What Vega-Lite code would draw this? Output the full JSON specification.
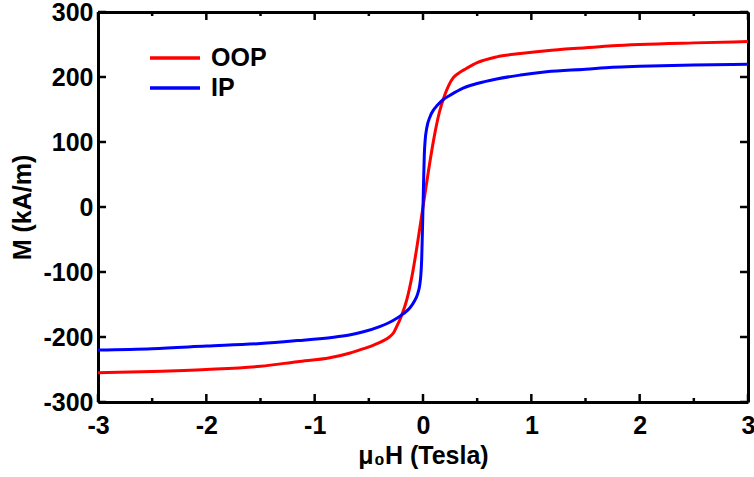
{
  "$schema": "https://vega.github.io/schema/vega-lite/v6.json",
  "width": 650,
  "height": 390,
  "autosize": {"type": "none"},
  "padding": {"left": 98, "top": 12, "right": 6, "bottom": 75},
  "background": "white",
  "config": {
    "view": {"stroke": null},
    "font": "Liberation Sans",
    "axis": {
      "gridOpacity": 0,
      "domainColor": "black",
      "domainWidth": 3,
      "labelFont": "Liberation Sans",
      "labelFontWeight": "bold",
      "labelFontSize": 25,
      "labelColor": "black",
      "titleFont": "Liberation Sans",
      "titleFontWeight": "bold",
      "titleFontSize": 25,
      "titleColor": "black"
    }
  },
  "datasets": {
    "majorX": [{"v": -3}, {"v": -2}, {"v": -1}, {"v": 0}, {"v": 1}, {"v": 2}, {"v": 3}],
    "minorX": [{"v": -2.5}, {"v": -1.5}, {"v": -0.5}, {"v": 0.5}, {"v": 1.5}, {"v": 2.5}],
    "majorY": [{"v": -300}, {"v": -200}, {"v": -100}, {"v": 0}, {"v": 100}, {"v": 200}, {"v": 300}]
  },
  "data": {
    "values": [
      {"series": "OOP", "H": -3, "M": -255},
      {"series": "OOP", "H": -2.5, "M": -253},
      {"series": "OOP", "H": -2, "M": -250},
      {"series": "OOP", "H": -1.5, "M": -245},
      {"series": "OOP", "H": -1.16, "M": -238},
      {"series": "OOP", "H": -0.86, "M": -232},
      {"series": "OOP", "H": -0.68, "M": -225},
      {"series": "OOP", "H": -0.55, "M": -218},
      {"series": "OOP", "H": -0.45, "M": -212},
      {"series": "OOP", "H": -0.37, "M": -206},
      {"series": "OOP", "H": -0.31, "M": -200},
      {"series": "OOP", "H": -0.27, "M": -193},
      {"series": "OOP", "H": -0.24, "M": -183},
      {"series": "OOP", "H": -0.2, "M": -168},
      {"series": "OOP", "H": -0.15, "M": -143},
      {"series": "OOP", "H": -0.1, "M": -105},
      {"series": "OOP", "H": -0.05, "M": -55},
      {"series": "OOP", "H": 0, "M": 0},
      {"series": "OOP", "H": 0.05, "M": 55},
      {"series": "OOP", "H": 0.1, "M": 105},
      {"series": "OOP", "H": 0.15, "M": 145},
      {"series": "OOP", "H": 0.2, "M": 172},
      {"series": "OOP", "H": 0.24, "M": 188},
      {"series": "OOP", "H": 0.28, "M": 199},
      {"series": "OOP", "H": 0.33, "M": 206},
      {"series": "OOP", "H": 0.4, "M": 213},
      {"series": "OOP", "H": 0.5, "M": 222},
      {"series": "OOP", "H": 0.68, "M": 231},
      {"series": "OOP", "H": 0.9, "M": 236},
      {"series": "OOP", "H": 1.14, "M": 240.5},
      {"series": "OOP", "H": 1.5, "M": 245},
      {"series": "OOP", "H": 1.75, "M": 248},
      {"series": "OOP", "H": 2, "M": 250},
      {"series": "OOP", "H": 2.5, "M": 252.5},
      {"series": "OOP", "H": 3, "M": 254.5},
      {"series": "IP", "H": -3, "M": -220},
      {"series": "IP", "H": -2.5, "M": -218},
      {"series": "IP", "H": -2, "M": -214},
      {"series": "IP", "H": -1.5, "M": -210},
      {"series": "IP", "H": -1.16, "M": -205.5},
      {"series": "IP", "H": -0.86, "M": -201},
      {"series": "IP", "H": -0.68, "M": -197},
      {"series": "IP", "H": -0.55, "M": -192},
      {"series": "IP", "H": -0.4, "M": -184},
      {"series": "IP", "H": -0.28, "M": -175},
      {"series": "IP", "H": -0.18, "M": -164},
      {"series": "IP", "H": -0.12, "M": -155},
      {"series": "IP", "H": -0.08, "M": -145},
      {"series": "IP", "H": -0.05, "M": -134},
      {"series": "IP", "H": -0.03, "M": -120},
      {"series": "IP", "H": -0.02, "M": -105},
      {"series": "IP", "H": -0.012, "M": -80},
      {"series": "IP", "H": -0.005, "M": -35},
      {"series": "IP", "H": 0, "M": 0},
      {"series": "IP", "H": 0.005, "M": 35},
      {"series": "IP", "H": 0.012, "M": 80},
      {"series": "IP", "H": 0.02, "M": 103},
      {"series": "IP", "H": 0.034, "M": 121},
      {"series": "IP", "H": 0.065, "M": 139},
      {"series": "IP", "H": 0.1, "M": 150},
      {"series": "IP", "H": 0.13, "M": 156},
      {"series": "IP", "H": 0.185, "M": 165},
      {"series": "IP", "H": 0.25, "M": 172},
      {"series": "IP", "H": 0.37, "M": 183},
      {"series": "IP", "H": 0.5, "M": 190},
      {"series": "IP", "H": 0.68, "M": 197},
      {"series": "IP", "H": 0.9, "M": 203},
      {"series": "IP", "H": 1.14, "M": 208},
      {"series": "IP", "H": 1.5, "M": 212},
      {"series": "IP", "H": 1.75, "M": 215},
      {"series": "IP", "H": 2, "M": 216.5},
      {"series": "IP", "H": 2.5, "M": 218.5},
      {"series": "IP", "H": 3, "M": 219.5}
    ]
  },
  "resolve": {"axis": {"x": "independent", "y": "independent"}},
  "layer": [
    {
      "mark": {"type": "line", "strokeWidth": 3, "interpolate": "monotone"},
      "encoding": {
        "x": {
          "field": "H", "type": "quantitative",
          "scale": {"domain": [-3, 3], "nice": false, "zero": false},
          "axis": {
            "orient": "bottom",
            "values": [-3, -2, -1, 0, 1, 2, 3],
            "labelExpr": "'' + datum.value",
            "labelFlush": false,
            "ticks": false,
            "labelPadding": 11,
            "title": "μ₀H (Tesla)",
            "titlePadding": 5
          }
        },
        "y": {
          "field": "M", "type": "quantitative",
          "scale": {"domain": [-300, 300], "nice": false, "zero": false},
          "axis": {
            "orient": "left",
            "values": [-300, -200, -100, 0, 100, 200, 300],
            "labelExpr": "'' + datum.value",
            "labelFlush": false,
            "ticks": false,
            "labelPadding": 5,
            "title": "M (kA/m)",
            "titlePadding": 7
          }
        },
        "color": {
          "field": "series", "type": "nominal",
          "sort": ["OOP", "IP"],
          "scale": {"domain": ["OOP", "IP"], "range": ["#ff0000", "#0000ff"]},
          "legend": {
            "orient": "none",
            "legendX": 50,
            "legendY": 33,
            "padding": 0,
            "title": null,
            "symbolType": "stroke",
            "symbolSize": 2500,
            "symbolStrokeWidth": 3.5,
            "clipHeight": 26,
            "labelFont": "Liberation Sans",
            "labelFontWeight": "bold",
            "labelFontSize": 25,
            "labelColor": "black",
            "labelOffset": 9,
            "rowPadding": 4
          }
        }
      }
    },
    {
      "mark": {"type": "line", "opacity": 0},
      "encoding": {
        "x": {
          "field": "H", "type": "quantitative",
          "axis": {"orient": "top", "ticks": false, "labels": false, "title": null}
        },
        "y": {
          "field": "M", "type": "quantitative",
          "axis": {"orient": "right", "ticks": false, "labels": false, "title": null}
        }
      }
    },
    {
      "data": {"name": "majorX"},
      "mark": {"type": "tick", "orient": "vertical", "size": 8, "thickness": 2.5, "color": "black", "opacity": 1, "yOffset": -4},
      "encoding": {
        "x": {"field": "v", "type": "quantitative", "axis": null},
        "y": {"datum": -300, "type": "quantitative", "axis": null}
      }
    },
    {
      "data": {"name": "majorX"},
      "mark": {"type": "tick", "orient": "vertical", "size": 8, "thickness": 2.5, "color": "black", "opacity": 1, "yOffset": 4},
      "encoding": {
        "x": {"field": "v", "type": "quantitative", "axis": null},
        "y": {"datum": 300, "type": "quantitative", "axis": null}
      }
    },
    {
      "data": {"name": "minorX"},
      "mark": {"type": "tick", "orient": "vertical", "size": 4, "thickness": 2.5, "color": "black", "opacity": 1, "yOffset": -2},
      "encoding": {
        "x": {"field": "v", "type": "quantitative", "axis": null},
        "y": {"datum": -300, "type": "quantitative", "axis": null}
      }
    },
    {
      "data": {"name": "minorX"},
      "mark": {"type": "tick", "orient": "vertical", "size": 4, "thickness": 2.5, "color": "black", "opacity": 1, "yOffset": 2},
      "encoding": {
        "x": {"field": "v", "type": "quantitative", "axis": null},
        "y": {"datum": 300, "type": "quantitative", "axis": null}
      }
    },
    {
      "data": {"name": "majorY"},
      "mark": {"type": "tick", "orient": "horizontal", "size": 8, "thickness": 2.5, "color": "black", "opacity": 1, "xOffset": 4},
      "encoding": {
        "y": {"field": "v", "type": "quantitative", "axis": null},
        "x": {"datum": -3, "type": "quantitative", "axis": null}
      }
    },
    {
      "data": {"name": "majorY"},
      "mark": {"type": "tick", "orient": "horizontal", "size": 8, "thickness": 2.5, "color": "black", "opacity": 1, "xOffset": -4},
      "encoding": {
        "y": {"field": "v", "type": "quantitative", "axis": null},
        "x": {"datum": 3, "type": "quantitative", "axis": null}
      }
    }
  ]
}
